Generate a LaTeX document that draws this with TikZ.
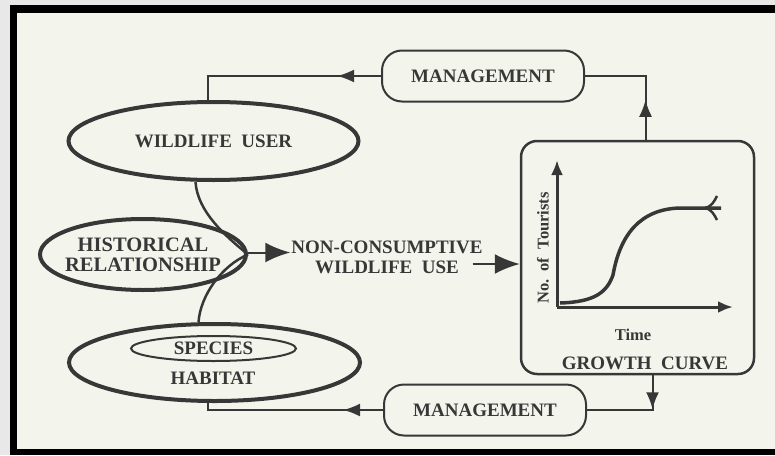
\documentclass[tikz,border=0pt]{standalone}
\usepackage{fontspec}
\setmainfont{Liberation Serif}
\usetikzlibrary{arrows.meta,shapes.geometric,decorations.markings}
\definecolor{ink}{RGB}{55,55,55}
\definecolor{paper}{RGB}{243,245,237}
\definecolor{margin}{RGB}{232,232,232}
\newcommand{\capsfont}{\fontsize{19}{20}\selectfont\bfseries}
\newcommand{\axisfont}{\fontsize{16.5}{17}\selectfont\bfseries}

\begin{document}
\begin{tikzpicture}[x=1pt, y=-1pt,
    every node/.style={text=ink, font=\capsfont, align=center},
    ring/.style={ellipse, draw=ink, line width=4pt, inner sep=0pt},
    mgmtbox/.style={draw=ink, line width=2pt, rounded corners=20pt,
        minimum width=202pt, minimum height=51pt},
    chartbox/.style={draw=ink, line width=2.5pt, rounded corners=16pt,
        minimum width=233pt, minimum height=233pt},
    link/.style={ink, line width=2pt},
    midarrow/.style={postaction={decorate}, decoration={markings,
        mark=at position #1 with {\arrow{Latex[length=17pt,width=13pt]}}}},
    bigarrow/.style={ink, line width=2pt, -{Latex[length=25pt,width=20pt]}},
    lens/.style={ink, line width=2.5pt},
    axis/.style={ink, line width=3pt, -{Latex[length=15pt,width=12pt]}}
]
% page, frame and scan
\fill[margin] (0,0) rectangle (775,455);
\fill[black] (10,5) rectangle (775,455);
\fill[paper] (17,13) rectangle (775,449);
\useasboundingbox (0,0) rectangle (775,455);

\node[ring, minimum width=290pt, minimum height=78pt] (user) at (213.5,141)
    {WILDLIFE~~USER};
\node[ring, minimum width=206pt, minimum height=71pt, inner xsep=-10pt,
    font=\fontsize{20.5}{20}\selectfont\bfseries] (hist) at (143,254.5)
    {HISTORICAL\\RELATIONSHIP};
\node[ring, minimum width=291pt, minimum height=77pt] (habitat) at (214.5,362.5) {};
\node[ring, line width=2pt, minimum width=165pt, minimum height=25pt] (species)
    at (213.5,348.5) {SPECIES};
\node (habitatname) at (213,378) {HABITAT};
\node[inner sep=1pt] (nonc) at (387,257) {NON-CONSUMPTIVE\\WILDLIFE~~USE};

\node[mgmtbox] (mtop) at (483,76) {MANAGEMENT};
\node[mgmtbox] (mbot) at (485,410) {MANAGEMENT};
\node[chartbox] (growth) at (637.5,257.5) {};

% growth curve
\coordinate (origin) at (557,307);
\draw[axis] (origin) -- (557,160);
\draw[axis] (origin) -- (733,307);
\draw[ink, line width=3.5pt] (560,303) .. controls (595,302) and (607,292) .. (613,275)
    .. controls (620,235) and (640,209) .. (680,208) -- (721,208);
\draw[ink, line width=2.5pt] (705,208) .. controls (711,207) and (714,202) .. (717,196);
\draw[ink, line width=2.5pt] (705,208) .. controls (711,209) and (714,214) .. (717,220);
\node[font=\axisfont, rotate=90] (ylabel) at (543,248) {No.~~of~~Tourists};
\node[font=\axisfont] (xlabel) at (633,335) {Time};
\node (chartname) at (645,363) {GROWTH~~CURVE};

% connectors
\draw[lens] ([xshift=-18pt]user.south) .. controls +(2,30) and +(-22,-18) .. (hist.east);
\draw[lens] ([xshift=-16pt]habitat.north) .. controls +(2,-27) and +(-26,11) .. (hist.east);
\coordinate (histtip) at ([yshift=2pt]hist.east);
\draw[bigarrow] (histtip) -- (histtip -| nonc.west);
\coordinate (usetail) at ([shift={(-11,7)}]nonc.east);
\draw[bigarrow] (usetail) -- (usetail -| growth.west);

\draw[link, midarrow=40pt] ([xshift=8pt]growth.north) |- (mtop.east);
\draw[link, midarrow=44pt] (mtop.west) -| ([xshift=-6pt]user.north);
\draw[link, midarrow=34pt] ([xshift=15pt]growth.south) |- (mbot.east);
\draw[link, midarrow=40pt] (mbot.west) -| ([xshift=-7pt]habitat.south);
\end{tikzpicture}
\end{document}
